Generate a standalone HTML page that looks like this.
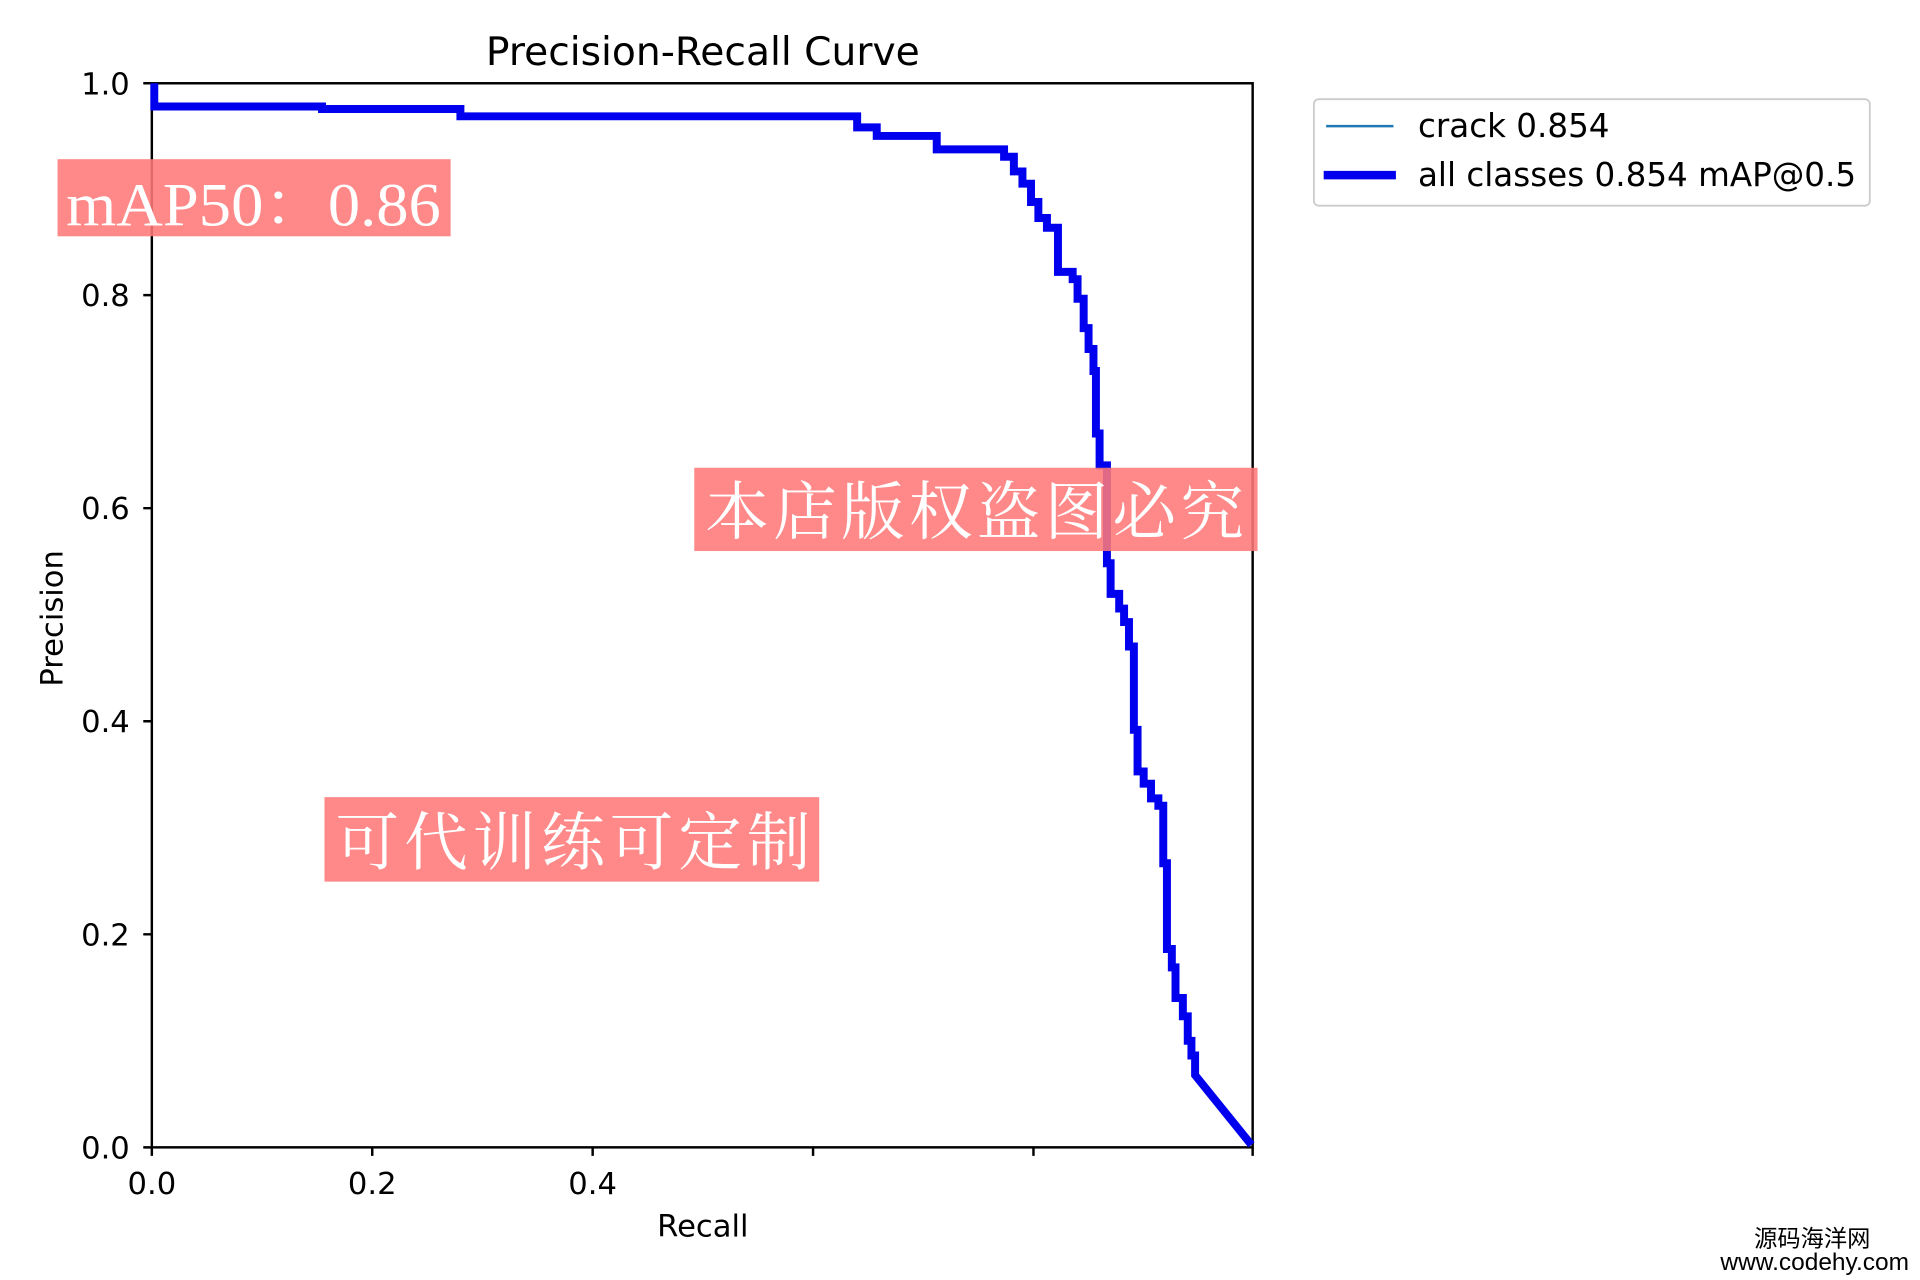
<!DOCTYPE html>
<html><head><meta charset="utf-8"><style>html,body{margin:0;padding:0;background:#fff}svg{display:block}</style></head>
<body>
<svg width="1920" height="1280" viewBox="0 0 1568 1045.33" preserveAspectRatio="none" xmlns="http://www.w3.org/2000/svg" font-family="'DejaVu Sans','Liberation Sans',sans-serif">
<rect width="1568" height="1046" fill="#fff"/>
<text x="574" y="53" font-size="32" text-anchor="middle" fill="#000">Precision-Recall Curve</text>
<g stroke="#000" stroke-width="2" fill="none">
<rect x="124" y="68" width="899" height="869"/>
<path d="M124 937v7M304 937v7M484 937v7M664 937v7M844 937v7M1023 937v7M124 937h-7M124 763h-7M124 589h-7M124 415h-7M124 241h-7M124 68h-7"/>
</g>
<g font-size="25" fill="#000" text-anchor="end">
<text x="106" y="946">0.0</text><text x="106" y="772">0.2</text><text x="106" y="598">0.4</text>
<text x="106" y="424">0.6</text><text x="106" y="250">0.8</text><text x="106" y="77">1.0</text>
</g>
<g font-size="25" fill="#000" text-anchor="middle">
<text x="124" y="975">0.0</text><text x="304" y="975">0.2</text><text x="484" y="975">0.4</text>
<text x="574" y="1010">Recall</text>
</g>
<text transform="translate(51 505) rotate(-90)" font-size="25" text-anchor="middle">Precision</text>
<path fill="none" stroke="#0000ee" stroke-width="6.5" stroke-linejoin="miter" d="M126 68V87H263V89H376V95H700V104H716V111H765V122H820V128H828V140H835V150H842V165H848V178H855V186H864V222H876V228H880V244H885V268H889V285H893V303H895V354H898V380H904V460H907V485H914V497H918V508H922V528H926V596H929V630H934V640H940V652H946V658H950V705H953V775H957V790H960V815H966V830H970V850H973V862H976V878L1022 935"/>
<rect x="1073" y="81" width="454" height="87" rx="4" fill="#fff" stroke="#ccc" stroke-width="1.5"/>
<line x1="1083" y1="103" x2="1138" y2="103" stroke="#1f77b4" stroke-width="2"/>
<line x1="1081" y1="143" x2="1140" y2="143" stroke="#0000ee" stroke-width="7"/>
<text x="1158" y="112" font-size="26.6">crack 0.854</text>
<text x="1158" y="152" font-size="26.6">all classes 0.854 mAP@0.5</text>
<rect x="47" y="130" width="321" height="63" fill="#f77" fill-opacity="0.88"/>
<text x="54" y="184" font-size="50" fill="#fff" font-family="'Liberation Serif','Noto Serif CJK SC',serif" textLength="306" lengthAdjust="spacingAndGlyphs">mAP50：0.86</text>
<rect x="567" y="382" width="460" height="68" fill="#f77" fill-opacity="0.88"/>
<text x="576" y="436" font-size="52" fill="#fff" font-family="'Noto Serif CJK SC',serif" textLength="440">本店版权盗图必究</text>
<rect x="265" y="651" width="404" height="69" fill="#f77" fill-opacity="0.88"/>
<text x="274" y="706" font-size="52" fill="#fff" font-family="'Noto Serif CJK SC',serif" textLength="388">可代训练可定制</text>
<text x="1480" y="1018" font-size="19" text-anchor="middle" font-family="'Liberation Sans','Noto Sans CJK SC',sans-serif">源码海洋网</text>
<text x="1482" y="1037" font-size="20" text-anchor="middle" font-family="'Liberation Sans',sans-serif">www.codehy.com</text>
</svg>
</body></html>
